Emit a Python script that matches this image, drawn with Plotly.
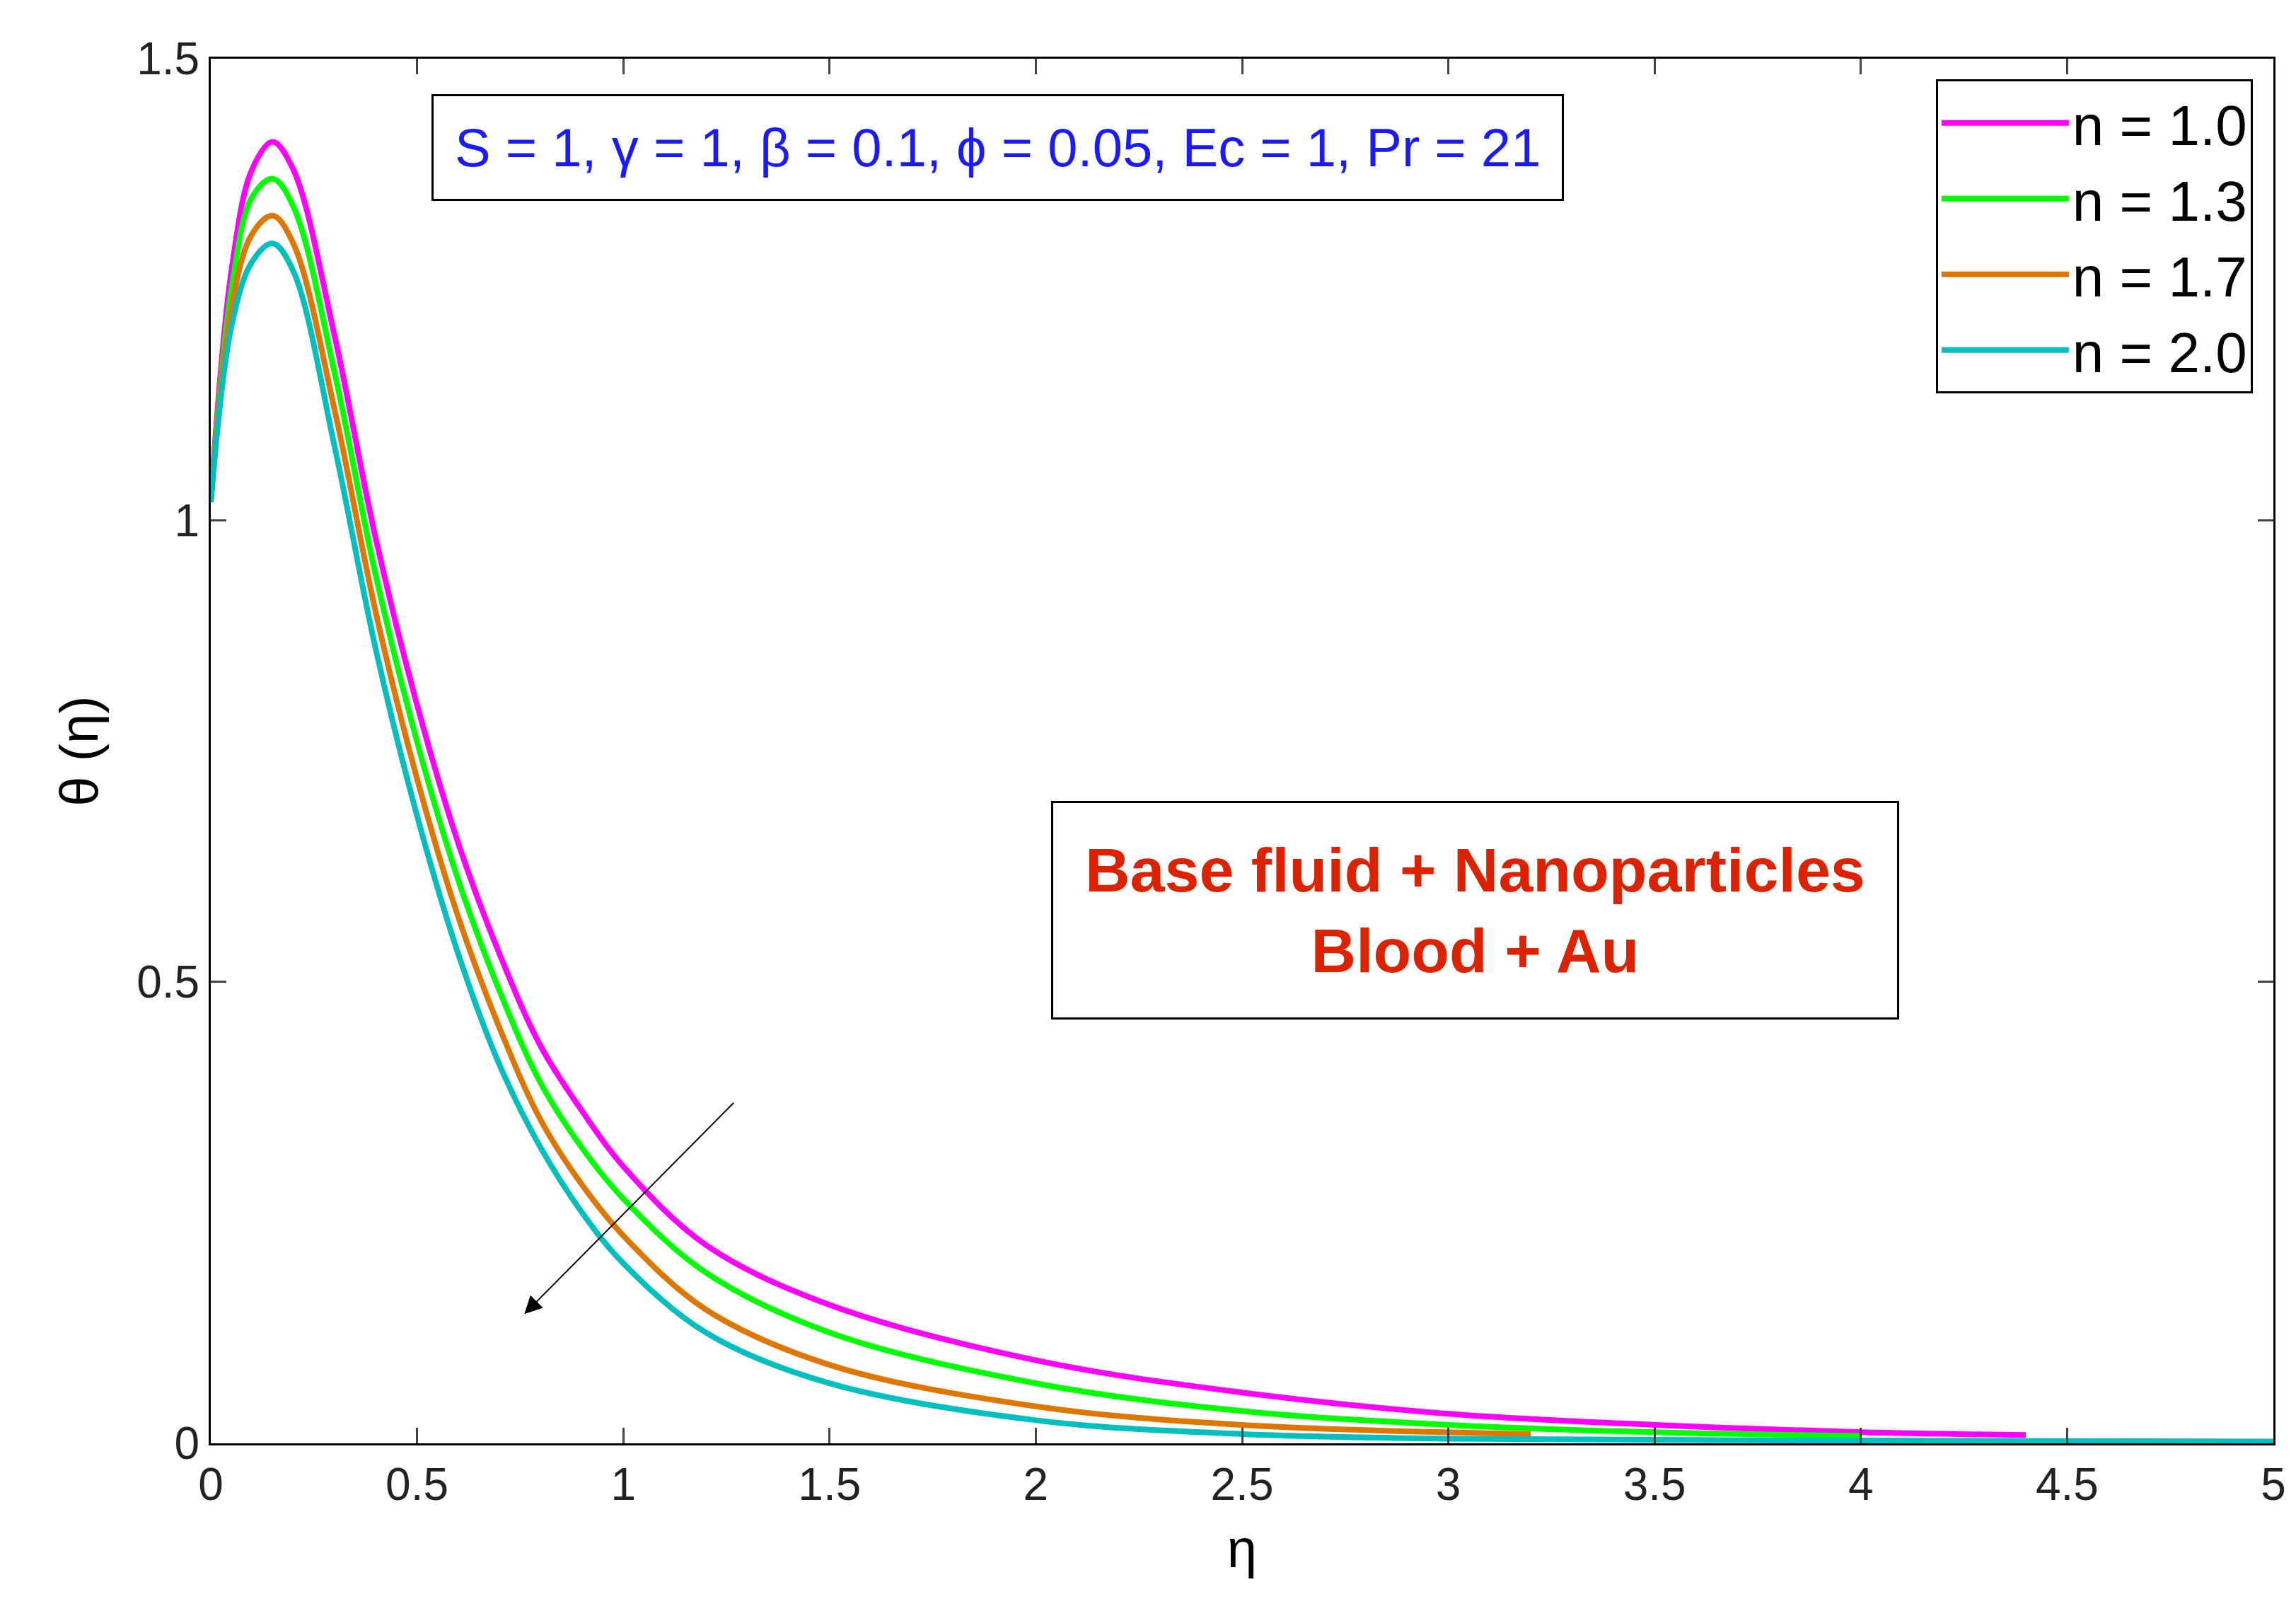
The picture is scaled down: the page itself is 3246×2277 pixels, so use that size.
import plotly.graph_objects as go

# curve samples
eta_a = [0, 0.05, 0.1, 0.15, 0.2, 0.3, 0.4, 0.5, 0.6, 0.7, 0.8, 0.9, 1.0, 1.2, 1.5, 2.0, 2.5, 3.0, 3.5, 4.0, 4.4]
theta_n10 = [1.02, 1.27, 1.38, 1.41, 1.38, 1.20, 0.98, 0.80, 0.65, 0.53, 0.43, 0.36, 0.30, 0.215, 0.15, 0.09, 0.055, 0.032, 0.02, 0.012, 0.009]
eta_b = [0, 0.05, 0.1, 0.15, 0.2, 0.3, 0.4, 0.5, 0.6, 0.7, 0.8, 0.9, 1.0, 1.2, 1.5, 2.0, 2.5, 3.0, 3.5, 4.0]
theta_n13 = [1.02, 1.25, 1.35, 1.37, 1.34, 1.16, 0.94, 0.76, 0.61, 0.49, 0.39, 0.32, 0.265, 0.185, 0.12, 0.065, 0.035, 0.02, 0.012, 0.008]
eta_c = [0, 0.05, 0.1, 0.15, 0.2, 0.3, 0.4, 0.5, 0.6, 0.7, 0.8, 0.9, 1.0, 1.2, 1.5, 2.0, 2.5, 3.2]
theta_n17 = [1.02, 1.23, 1.31, 1.33, 1.30, 1.12, 0.90, 0.72, 0.57, 0.45, 0.35, 0.28, 0.225, 0.145, 0.085, 0.04, 0.02, 0.01]
eta_d = [0, 0.05, 0.1, 0.15, 0.2, 0.3, 0.4, 0.5, 0.6, 0.7, 0.8, 0.9, 1.0, 1.2, 1.5, 2.0, 2.5, 3.0, 4.0, 5.0]
theta_n20 = [1.02, 1.21, 1.28, 1.30, 1.27, 1.08, 0.86, 0.68, 0.53, 0.41, 0.32, 0.25, 0.195, 0.12, 0.065, 0.025, 0.01, 0.005, 0.003, 0.002]

series = [
    ("n = 1.0", eta_a, theta_n10, "#ff00ff"),
    ("n = 1.3", eta_b, theta_n13, "#00ff00"),
    ("n = 1.7", eta_c, theta_n17, "#dd7700"),
    ("n = 2.0", eta_d, theta_n20, "#00bfbf"),
]

fig = go.Figure()
for name, x, y, c in series:
    fig.add_trace(go.Scatter(x=x, y=y, name=name, mode="lines",
                             line=dict(color=c, width=8, shape="spline", smoothing=1.0)))

axis_common = dict(showline=True, linecolor="black", linewidth=3, mirror="ticks",
                   ticks="inside", ticklen=22, tickwidth=3, showgrid=False, zeroline=False,
                   tickfont=dict(size=64, color="#222"))
fig.update_xaxes(range=[0, 5], dtick=0.5, title=dict(text="η", font=dict(size=76), standoff=30), **axis_common)
fig.update_yaxes(range=[0, 1.5], tickvals=[0, 0.5, 1, 1.5], ticktext=["0", "0.5", "1", "1.5"],
                 title=dict(text="θ (η)", font=dict(size=76), standoff=30), **axis_common)

fig.add_annotation(x=0.107, y=0.936, xref="paper", yref="paper", xanchor="left", yanchor="middle",
                   text="S = 1, γ = 1, β = 0.1, ϕ = 0.05, Ec = 1, Pr = 21", showarrow=False,
                   font=dict(size=76, color="#1a1aff"), bordercolor="black", borderwidth=3,
                   borderpad=30, bgcolor="white")
fig.add_annotation(x=0.613, y=0.385, xref="paper", yref="paper", xanchor="center", yanchor="middle",
                   text="<b>Base fluid + Nanoparticles</b><br><b>Blood + Au</b>", showarrow=False,
                   align="center", font=dict(size=88, color="#dd2200"), bordercolor="black",
                   borderwidth=3, borderpad=45, bgcolor="white")
fig.add_annotation(x=0.76, y=0.14, ax=1.27, ay=0.37, xref="x", yref="y", axref="x", ayref="y",
                   showarrow=True, arrowhead=2, arrowsize=2.5, arrowwidth=2, arrowcolor="black", text="")

fig.update_layout(
    width=3246, height=2277, template="simple_white",
    paper_bgcolor="white", plot_bgcolor="white",
    font=dict(family="Liberation Sans, Arial", color="black"),
    margin=dict(l=290, r=40, t=75, b=245),
    legend=dict(x=0.99, y=0.985, xanchor="right", yanchor="top", bordercolor="black",
                borderwidth=3, bgcolor="white", font=dict(size=80), itemwidth=180,
                tracegroupgap=0),
)
fig.write_html("out.html")
